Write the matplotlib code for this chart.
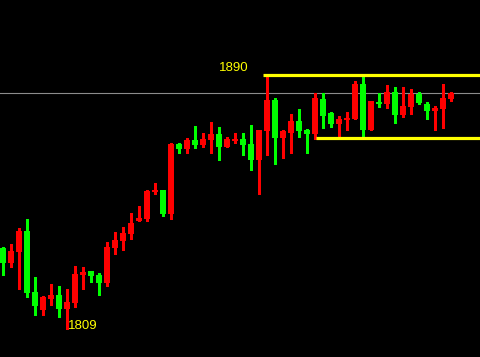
import numpy as np
import matplotlib
matplotlib.use("Agg")
import matplotlib.pyplot as plt

# OHLC values
opens = [1834.8, 1830.0, 1833.6, 1840.3, 1820.8, 1815.1, 1818.6, 1819.8, 1815.4, 1817.3,
         1826.2, 1827.5, 1826.2, 1823.7, 1834.8, 1837.1, 1839.3, 1843.4, 1844.1, 1852.7,
         1853.3, 1845.7, 1868.0, 1866.4, 1869.3, 1867.7, 1869.3, 1871.2, 1867.0, 1869.0,
         1869.6, 1868.0, 1862.9, 1872.1, 1882.0, 1869.9, 1871.5, 1875.3, 1872.5, 1871.2,
         1882.3, 1877.9, 1874.4, 1875.6, 1876.0, 1887.1, 1872.5, 1881.4, 1880.8, 1884.6,
         1877.2, 1879.8, 1883.9, 1880.8, 1878.5, 1879.2, 1882.3]
highs = [1835.2, 1836.1, 1841.2, 1844.1, 1825.6, 1819.5, 1823.3, 1822.7, 1821.8, 1829.1,
         1828.8, 1827.5, 1826.9, 1836.7, 1839.9, 1841.5, 1846.0, 1848.2, 1853.3, 1855.6,
         1853.3, 1868.3, 1868.3, 1869.9, 1873.7, 1871.5, 1875.0, 1873.4, 1870.2, 1871.5,
         1871.5, 1874.1, 1872.5, 1890.0, 1882.7, 1872.5, 1877.6, 1879.2, 1872.8, 1884.3,
         1884.3, 1878.2, 1876.9, 1878.2, 1888.1, 1889.4, 1881.7, 1884.3, 1886.8, 1886.2,
         1886.2, 1885.5, 1884.6, 1881.4, 1880.1, 1887.1, 1884.6]
lows = [1826.2, 1828.8, 1821.8, 1819.2, 1813.5, 1813.5, 1816.7, 1812.8, 1809.0, 1816.0,
        1821.8, 1824.0, 1819.8, 1822.7, 1832.9, 1834.2, 1837.7, 1843.4, 1843.4, 1852.1,
        1845.0, 1844.1, 1865.1, 1865.1, 1866.7, 1867.0, 1865.1, 1862.9, 1867.0, 1868.3,
        1864.5, 1859.7, 1852.1, 1864.5, 1861.6, 1863.5, 1865.1, 1870.2, 1865.1, 1869.6,
        1873.1, 1873.4, 1870.5, 1872.5, 1876.0, 1870.5, 1872.5, 1879.8, 1879.5, 1874.7,
        1876.6, 1877.6, 1880.8, 1876.0, 1872.5, 1873.1, 1881.7]
closes = [1830.0, 1833.9, 1840.3, 1820.5, 1816.3, 1819.2, 1819.8, 1815.4, 1817.6, 1826.5,
          1827.2, 1825.9, 1823.7, 1835.1, 1837.4, 1839.6, 1842.8, 1844.4, 1853.0, 1853.3,
          1845.7, 1868.0, 1866.4, 1869.3, 1867.7, 1869.6, 1871.2, 1867.0, 1869.6, 1869.6,
          1867.7, 1862.9, 1872.5, 1882.0, 1869.9, 1872.1, 1875.3, 1872.1, 1871.2, 1882.7,
          1876.9, 1874.4, 1876.0, 1876.3, 1887.1, 1872.5, 1881.7, 1880.8, 1884.6, 1877.2,
          1880.1, 1883.9, 1881.1, 1878.5, 1879.5, 1882.7, 1884.3]

high_label = "1890"
low_label = "1809"
resistance = 1890.0
support = 1870.0

o = np.array(opens)
h = np.array(highs)
l = np.array(lows)
c = np.array(closes)
x = np.arange(len(o))
colors = np.where(c >= o, "#ff0000", "#00ff00")

fig = plt.figure(figsize=(4.8, 3.57), dpi=100, facecolor="black")
ax = fig.add_axes([0, 0, 1, 1])
ax.set_facecolor("black")

# last price line
ax.axhline(c[-1], color="#8c8c8c", lw=0.8, zorder=1)

ax.vlines(x, l, h, colors=colors, lw=0.9, zorder=2, antialiased=False)
body = np.maximum(np.abs(c - o), 0.6)
ax.bar(x, body, bottom=np.minimum(o, c), width=0.75, color=colors,
       linewidth=0, zorder=3, antialiased=False)

# range lines
ax.hlines(resistance, 32.55, 60, color="#ffff00", lw=2.3, zorder=4)
ax.hlines(support, 39.2, 60, color="#ffff00", lw=2.3, zorder=4)

i_hi = int(np.argmax(h))
i_lo = int(np.argmin(l))
ax.text(i_hi - 2.3, h[i_hi] + 2.2, high_label, color="#ffff00", fontsize=9.5,
        family="Liberation Sans", ha="right", va="center")
ax.text(i_lo + 0.2, l[i_lo] + 1.0, low_label, color="#ffff00", fontsize=9.5,
        family="Liberation Sans", ha="left", va="center")

ax.set_xlim(-0.3125, 59.6875)
ax.set_ylim(1800.1, 1913.9)
ax.axis("off")

fig.savefig("out.png", dpi=100, facecolor="black")
